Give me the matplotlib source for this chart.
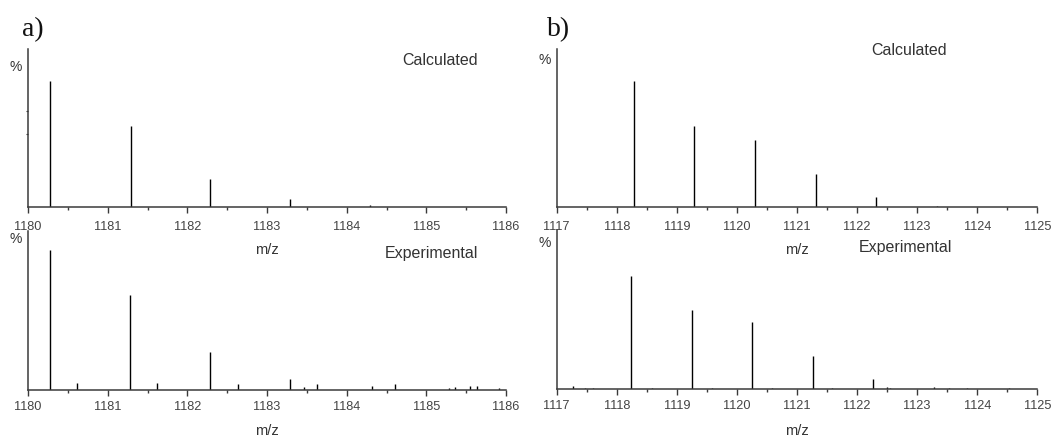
import matplotlib
matplotlib.use("Agg")
import matplotlib.pyplot as plt
from matplotlib.ticker import MultipleLocator

# ---- isotope patterns (m/z, relative intensity %) ----
a_calc_mz = [1180.28, 1181.29, 1182.28, 1183.29, 1184.29]
a_calc_int = [100.0, 64.4, 22.3, 6.1, 1.3]

a_exp_mz = [1180.27, 1180.61, 1181.28, 1181.62, 1182.28, 1182.63, 1183.29,
            1183.47, 1183.63, 1184.32, 1184.61, 1185.29, 1185.36, 1185.55,
            1185.63, 1185.91]
a_exp_int = [100.0, 4.8, 67.8, 4.8, 26.7, 3.8, 7.7,
             2.1, 3.8, 2.9, 3.8, 1.4, 2.1, 2.9,
             2.9, 1.1]

b_calc_mz = [1118.29, 1119.29, 1120.30, 1121.31, 1122.32, 1123.33]
b_calc_int = [100.0, 64.4, 53.3, 26.0, 8.0, 1.0]

b_exp_mz = [1117.27, 1117.47, 1117.60, 1118.24, 1118.59, 1119.25, 1119.59,
            1120.25, 1120.58, 1121.26, 1121.58, 1122.26, 1122.50, 1122.55,
            1123.28, 1123.53, 1123.83, 1124.53]
b_exp_int = [2.9, 1.3, 1.3, 100.0, 1.3, 70.1, 1.3,
             58.9, 1.3, 29.6, 1.3, 9.1, 1.8, 1.3,
             2.2, 1.3, 1.3, 1.3]

a_range = (1180, 1186)
b_range = (1117, 1125)
a_ticks = list(range(1180, 1187))
b_ticks = list(range(1117, 1126))

W, H = 1054, 439
fig = plt.figure(figsize=(W / 100, H / 100), dpi=100)
plt.rcParams["font.family"] = ["Liberation Sans", "DejaVu Sans"]

SPINE = "#3a3a3a"
TXT = "#333333"


def px_axes(x0, y0, x1, y1):
    """Axes from pixel box (left, top, right, bottom)."""
    ax = fig.add_axes([x0 / W, 1 - y1 / H, (x1 - x0) / W, (y1 - y0) / H])
    ax.patch.set_visible(False)
    return ax


def spectrum(ax, mz, inten, xr, ticks, ytop, label, lab_xy, pct_xy,
             mz_y, tick_pad):
    ax.vlines(mz, 0, inten, colors="black", linewidth=1.0)
    ax.set_xlim(*xr)
    ax.set_ylim(0, ytop)
    for s in ("top", "right"):
        ax.spines[s].set_visible(False)
    for s in ("left", "bottom"):
        ax.spines[s].set_color(SPINE)
        ax.spines[s].set_linewidth(1.1)
    ax.set_xticks(ticks)
    ax.set_xticklabels([str(t) for t in ticks])
    ax.xaxis.set_minor_locator(MultipleLocator(0.5))
    ax.tick_params(axis="x", which="major", direction="out", length=4.3,
                   width=1.0, color=SPINE, labelsize=9.2, labelcolor="#444444",
                   pad=tick_pad)
    ax.tick_params(axis="x", which="minor", direction="out", length=2.4,
                   width=1.0, color=SPINE)
    ax.set_yticks([])
    ax.set_xlabel("m/z", fontsize=10.5, color=TXT)
    ax.xaxis.label.set_va("center")
    ax.xaxis.set_label_coords(0.5, mz_y)
    ax.set_ylabel("%", rotation=0, fontsize=10, color=TXT)
    ax.yaxis.label.set_va("center")
    ax.yaxis.label.set_ha("center")
    ax.yaxis.set_label_coords(*pct_xy)
    ax.text(lab_xy[0], lab_xy[1], label, transform=ax.transAxes,
            ha="center", va="baseline", fontsize=11.5, color=TXT)


ax1 = px_axes(28, 50, 506, 208)
spectrum(ax1, a_calc_mz, a_calc_int, a_range, a_ticks, 125.7, "Calculated",
         (0.863, 0.905), (-0.025, 0.892), -0.266, 5.0)
ax1.set_yticks([58.1, 76.4])
ax1.set_yticklabels([])
ax1.tick_params(axis="y", direction="out", length=1.5, width=0.8, color=SPINE)

ax2 = px_axes(28, 232, 506, 390.7)
spectrum(ax2, a_exp_mz, a_exp_int, a_range, a_ticks, 113.6, "Experimental",
         (0.845, 0.836), (-0.025, 0.956), -0.254, 3.0)

ax3 = px_axes(556.7, 50, 1037.3, 208)
spectrum(ax3, b_calc_mz, b_calc_int, b_range, b_ticks, 125.7, "Calculated",
         (0.734, 0.968), (-0.026, 0.937), -0.266, 5.0)

ax4 = px_axes(556.7, 231, 1037.3, 390.3)
spectrum(ax4, b_exp_mz, b_exp_int, b_range, b_ticks, 140.1, "Experimental",
         (0.726, 0.870), (-0.024, 0.925), -0.254, 3.0)

fig.text(22 / W, 1 - 36 / H, "a)", fontsize=20, family="Liberation Serif",
         ha="left", va="baseline", color="#111111")
fig.text(547 / W, 1 - 36 / H, "b)", fontsize=20, family="Liberation Serif",
         ha="left", va="baseline", color="#111111")

fig.savefig("out.png", dpi=100)
